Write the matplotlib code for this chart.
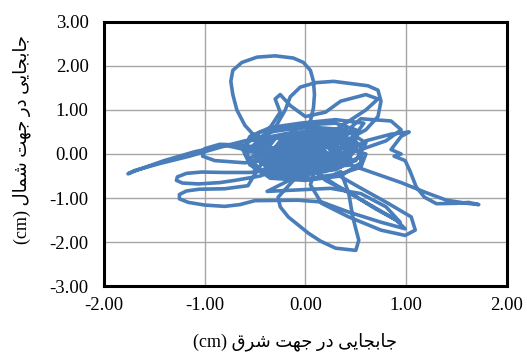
import numpy as np
import matplotlib
matplotlib.use('Agg')
import matplotlib.pyplot as plt

# Orbit of the displacement (cm)
east_cm = [
    # centre start
    0.0, 0.1, 0.2, 0.1, -0.1, -0.15, 0.0, 0.25, 0.35, 0.25, 0.0, -0.25, -0.3, -0.1, 0.2, 0.4, 0.45, 0.3,
    # left tail
    0.1, -0.2, -0.5, -0.8, -1.1, -1.4, -1.65, -1.76, -1.7, -1.45, -1.15, -0.85, -0.6, -0.3,
    # big top loop
    -0.5, -0.6, -0.68, -0.72, -0.74, -0.72, -0.63, -0.48, -0.3, -0.12, -0.02, 0.05, 0.08, 0.09, 0.08,
    0.05, 0.0, -0.1,
    # centre
    -0.3, -0.45, -0.3, 0.0, 0.2, 0.3, 0.15, -0.15, -0.4, -0.45, -0.3, 0.0, 0.3, 0.45, 0.35, 0.05, -0.3, -0.5,
    # upper right loop
    -0.3, -0.2, -0.15, -0.05, 0.1, 0.28, 0.45, 0.62, 0.72, 0.75, 0.72, 0.6, 0.4, 0.15, -0.05,
    # left loops
    -0.3, -0.55, -0.8, -1.03, -1.18, -1.27, -1.28, -1.22, -1.06, -0.85, -0.7, -0.45, -0.1, 0.1, 0.05,
    -0.2, -0.4,
    # lower left loop and its long bottom run
    -0.5, -0.57, -0.8, -1.05, -1.18, -1.25, -1.25, -1.16, -1.0, -0.8, -0.65, -0.5, -0.07, 0.16, 0.43,
    0.75, 0.99, 0.9, 0.6, 0.3, 0.1,
    # right tail
    0.4, 0.6, 0.85, 1.03, 0.95, 0.85, 0.95, 0.88, 0.99, 1.04, 1.1, 1.18, 1.3, 1.5, 1.62, 1.72, 1.6, 1.4,
    1.2, 0.95, 0.7, 0.45,
    # bottom loop
    0.2, -0.1, -0.27, -0.25, -0.17, 0.03, 0.15, 0.3, 0.5, 0.53, 0.5, 0.47, 0.43, 0.35,
    # lower right loop
    0.3, 0.53, 0.82, 1.05, 1.09, 0.99, 0.75, 0.43, 0.16, 0.05, 0.1,
    # lines towards the lower right
    -0.38, -0.1, 0.25, 0.55, 0.8, 0.94, 0.7, 0.45, 0.2, 0.05,
    # upper scribbles
    -0.2, -0.45, -0.35, -0.25, -0.3, -0.25, -0.15, 0.0, 0.2, 0.35, 0.6, 0.72, 0.6, 0.4, 0.2, 0.0, -0.2,
    -0.35, -0.1, 0.2, 0.4, 0.5, 0.45, 0.55, 0.85, 0.95, 0.8, 0.55, 0.3,
    # left middle loop
    0.0, -0.3, -0.6, -0.85, -1.0, -1.02, -0.9, -0.6, -0.3, 0.0, 0.25, 0.4, 0.3, 0.0, -0.25, -0.35, -0.25,
    0.05, 0.3, 0.45, 0.4, 0.2, -0.05, -0.2, -0.15, 0.1, 0.2, 0.05,
    # dense core
    -0.1, -0.4, -0.55, -0.45, -0.15, 0.15, 0.35, 0.4, 0.25, -0.05, -0.3, -0.4, -0.3, -0.05, 0.2, 0.3,
    0.15, -0.1, -0.2, -0.05, 0.1, 0.5, 0.3, -0.1, -0.45, -0.6, -0.55, -0.35, 0.0, 0.35, 0.55, 0.55,
    0.35, 0.0, -0.2, -0.25, -0.1, 0.1, 0.15, 0.0,
    -0.55, -0.35, 0.0, 0.4, 0.6, 0.5, 0.2, -0.2, -0.5, -0.6, -0.45, -0.1, 0.3, 0.5, 0.35, 0.0, -0.35,
    -0.5, -0.3, 0.1, 0.45, 0.55, 0.3, -0.1, -0.4, -0.45, -0.2, 0.2, 0.5, 0.58, 0.3, -0.05, -0.35, -0.55,
    -0.62, -0.55, -0.3, 0.05, 0.35, 0.55, 0.6, 0.35, 0.0, -0.3, -0.5, -0.35, 0.0, 0.3, 0.2, -0.15,
    -0.35, -0.2, 0.15, 0.35, 0.1, -0.25, -0.3, 0.0, 0.25, 0.05, -0.15, 0.0,
]
north_cm = [
    # centre start
    0.0, 0.15, 0.05, -0.15, -0.1, 0.1, 0.25, 0.3, 0.1, -0.2, -0.3, -0.15, 0.1, 0.35, 0.4, 0.25, 0.0, -0.25,
    # left tail
    -0.35, -0.2, 0.05, 0.2, 0.05, -0.15, -0.35, -0.45, -0.38, -0.22, -0.05, 0.15, 0.3, 0.35,
    # big top loop
    0.4, 0.65, 1.0, 1.35, 1.65, 1.9, 2.08, 2.2, 2.23, 2.18, 2.08, 1.9, 1.65, 1.35, 1.05,
    0.75, 0.45, 0.15,
    # centre
    -0.2, -0.4, -0.55, -0.5, -0.3, 0.0, 0.3, 0.45, 0.3, 0.0, -0.25, -0.35, -0.2, 0.15, 0.5, 0.6, 0.55, 0.3,
    # upper right loop
    0.6, 1.0, 1.3, 1.52, 1.62, 1.65, 1.6, 1.55, 1.45, 1.2, 0.85, 0.55, 0.3, 0.1, -0.1,
    # left loops
    -0.35, -0.42, -0.42, -0.41, -0.44, -0.52, -0.6, -0.66, -0.68, -0.65, -0.6, -0.5, -0.2, 0.0, 0.2,
    0.15, -0.1,
    # lower left loop and its long bottom run
    -0.45, -0.72, -0.79, -0.8, -0.84, -0.92, -1.02, -1.1, -1.16, -1.19, -1.15, -1.06, -1.05, -1.09, -1.32,
    -1.55, -1.7, -1.5, -1.1, -0.7, -0.4,
    # right tail
    0.0, 0.3, 0.45, 0.5, 0.4, 0.1, 0.0, -0.05, -0.15, -0.4, -0.75, -0.98, -1.13, -1.12, -1.1, -1.15, -1.12, -1.05,
    -0.88, -0.65, -0.45, -0.25,
    # bottom loop
    -0.3, -0.55, -0.98, -1.2, -1.43, -1.8, -1.98, -2.14, -2.19, -1.96, -1.7, -1.43, -0.89, -0.4,
    # lower right loop
    -0.45, -0.75, -1.12, -1.43, -1.73, -1.85, -1.73, -1.43, -1.12, -0.7, -0.3,
    # lines towards the lower right
    -0.85, -0.82, -0.78, -0.9, -1.2, -1.55, -1.25, -0.9, -0.6, -0.3,
    # upper scribbles
    0.0, 0.25, 0.6, 0.95, 1.25, 1.35, 1.1, 0.85, 0.95, 1.2, 1.35, 1.25, 1.0, 0.7, 0.4, 0.15, -0.1,
    -0.4, -0.45, -0.35, -0.1, 0.3, 0.6, 0.8, 0.75, 0.55, 0.3, 0.1, -0.05,
    # left middle loop
    -0.15, 0.05, 0.2, 0.22, 0.12, -0.05, -0.15, -0.2, -0.1, 0.05, 0.2, 0.35, 0.55, 0.5, 0.3, 0.0, -0.3,
    -0.4, -0.35, -0.1, 0.2, 0.35, 0.3, 0.1, -0.15, -0.2, 0.0, 0.1,
    # dense core
    0.1, 0.15, -0.1, -0.35, -0.45, -0.4, -0.15, 0.15, 0.4, 0.45, 0.35, 0.05, -0.2, -0.25, -0.15, 0.1,
    0.25, 0.2, 0.0, -0.1, 0.05, 0.55, 0.7, 0.65, 0.5, 0.2, -0.2, -0.55, -0.6, -0.5, -0.2, 0.2,
    0.45, 0.4, 0.2, -0.05, -0.2, -0.1, 0.1, 0.0,
    0.05, 0.5, 0.62, 0.55, 0.25, -0.15, -0.4, -0.5, -0.35, 0.0, 0.35, 0.5, 0.45, 0.1, -0.3, -0.45, -0.3,
    0.05, 0.4, 0.45, 0.3, -0.05, -0.35, -0.4, -0.2, 0.2, 0.45, 0.55, 0.45, 0.7, 0.78, 0.7, 0.6, 0.4,
    0.1, -0.25, -0.5, -0.55, -0.45, -0.3, 0.0, 0.15, 0.2, 0.15, -0.1, -0.35, -0.3, -0.1, 0.25, 0.3,
    0.05, -0.25, -0.25, 0.05, 0.35, 0.25, -0.1, -0.15, 0.0, 0.15, 0.0, -0.05,
]

x_ticks = [-2.0, -1.0, 0.0, 1.0, 2.0]
y_ticks = [-3.0, -2.0, -1.0, 0.0, 1.0, 2.0, 3.0]

# Persian labels written in visual order with presentation forms
# (matplotlib does no Arabic shaping of its own)
word_jabejayi = '\uFEF0\uFEF3\uFE8E\uFEA0\uFE91\uFE8E\uFE9F'
word_dar = '\uFEAD\uFEA9'
word_jahat = '\uFE96\uFEEC\uFE9F'
word_shargh = '\uFED5\uFEAE\uFEB7'
word_shomal = '\uFEDD\uFE8E\uFEE4\uFEB7'
x_label = '(cm) ' + ' '.join([word_shargh, word_jahat, word_dar, word_jabejayi])
y_label = '(cm) ' + ' '.join([word_shomal, word_jahat, word_dar, word_jabejayi])

LINE_COLOR = '#4a7ebb'
FONTS = ['Liberation Serif', 'DejaVu Sans']

plt.rcParams['font.family'] = FONTS
plt.rcParams['axes.unicode_minus'] = False

fig = plt.figure(figsize=(5.27, 3.54), dpi=100)
ax = fig.add_axes([0.197, 0.192, 0.765, 0.746])

ax.plot(east_cm, north_cm, color=LINE_COLOR, linewidth=2.6,
        solid_joinstyle='round', solid_capstyle='round', zorder=3)

ax.set_xlim(-2, 2)
ax.set_ylim(-3, 3)
ax.set_xticks(x_ticks)
ax.set_yticks(y_ticks)
ax.set_xticklabels([f'{v:.2f}' for v in x_ticks])
ax.set_yticklabels([f'{v:.2f}' for v in y_ticks])
ax.tick_params(length=0, labelsize=13.5)
ax.tick_params(axis='x', pad=8)
ax.tick_params(axis='y', pad=11)

ax.grid(True, color='#a6a6a6', linewidth=1.0, zorder=0)
ax.set_axisbelow(True)
for s in ax.spines.values():
    s.set_linewidth(2.2)
    s.set_color('black')

ax.set_xlabel(x_label, fontsize=13)
ax.set_ylabel(y_label, fontsize=13)
ax.xaxis.set_label_coords(0.474, -0.175)
ax.yaxis.set_label_coords(-0.18, 0.555)

fig.savefig('out.png', dpi=100)
